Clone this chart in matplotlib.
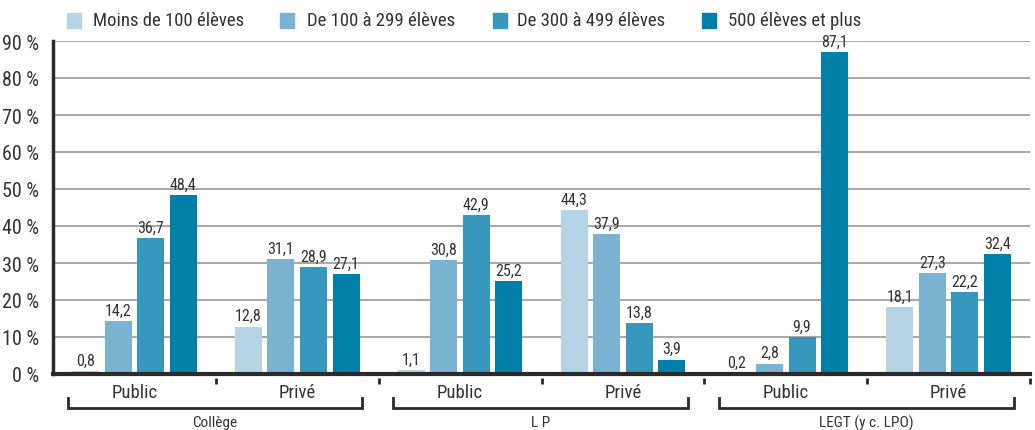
import matplotlib
matplotlib.use("Agg")
import matplotlib.pyplot as plt
from matplotlib.patches import Rectangle
from matplotlib import font_manager as fm
from matplotlib.font_manager import FontProperties
from matplotlib.textpath import TextPath
import numpy as np

# ---- font choice: prefer a condensed sans ----
fam, stretch = "DejaVu Sans", "normal"
names = [f.name for f in fm.fontManager.ttflist]
for cand in ["Liberation Sans Narrow", "Roboto Condensed", "Open Sans Condensed",
             "Noto Sans Condensed", "DejaVu Sans Condensed"]:
    if cand in names:
        fam = cand
        break
else:
    if any(f.name == "DejaVu Sans" and str(f.stretch) in ("condensed", "semi-condensed", "500", "400")
           and "Condensed" in f.fname for f in fm.fontManager.ttflist):
        fam, stretch = "DejaVu Sans", "condensed"
plt.rcParams['font.family'] = [fam, 'DejaVu Sans']
plt.rcParams['font.stretch'] = stretch
PROP = FontProperties(family=fam, stretch=stretch)


def fit_size(s, target_px):
    w = TextPath((0, 0), s, size=10, prop=PROP).get_extents().width
    return 10 * (target_px * 72 / 100) / w


series_names = ["Moins de 100 élèves", "De 100 à 299 élèves",
                "De 300 à 499 élèves", "500 élèves et plus"]
colors = ["#b5d4e6", "#79b3d1", "#3797bd", "#007fa8"]
sectors = ["Public", "Privé", "Public", "Privé", "Public", "Privé"]
categories = ["Collège", "L P", "LEGT (y c. LPO)"]

moins_100 = [0.8, 12.8, 1.1, 44.3, 0.2, 18.1]
de_100_299 = [14.2, 31.1, 30.8, 37.9, 2.8, 27.3]
de_300_499 = [36.7, 28.9, 42.9, 13.8, 9.9, 22.2]
plus_500 = [48.4, 27.1, 25.2, 3.9, 87.1, 32.4]
values = [moins_100, de_100_299, de_300_499, plus_500]

yticks = [0, 10, 20, 30, 40, 50, 60, 70, 80, 90]
ytick_labels = ["%d %%" % v for v in yticks]

fs_legend = fit_size("Moins de 100 élèves", 149)
fs_tick = fit_size("90 %", 35)
fs_sector = fit_size("Public", 44)
fs_value = fit_size("87,1", 23)
fs_cat = fit_size("Collège", 44)

W, H = 1035, 431
fig = plt.figure(figsize=(W / 100, H / 100), dpi=100)
ax_left, ax_right, ax_bottom, ax_top = 53, 1030, 375, 42
ax = fig.add_axes([ax_left / W, (H - ax_bottom) / H,
                   (ax_right - ax_left) / W, (ax_bottom - ax_top) / H])
ax_h = ax_bottom - ax_top

dark = "#2b2b2b"
txt = "#333333"
n = len(sectors)
x0 = np.arange(n) + 0.5
pitch = 0.2
bw = 0.166
for s in range(4):
    xs = x0 + (s - 1.5) * pitch
    ax.bar(xs, values[s], width=bw, color=colors[s], zorder=3)
    for x, v in zip(xs, values[s]):
        ax.text(x, v + 0.9, ("%.1f" % v).replace(".", ","), ha="center",
                va="bottom", fontsize=fs_value, color=txt, zorder=4)

ax.set_xlim(0, n)
ax.set_ylim(0, 90)
ax.set_yticks(yticks)
ax.set_yticklabels(ytick_labels, fontsize=fs_tick, color=txt)
ax.tick_params(axis="y", length=0, pad=10)
ax.set_xticks([])
for y in yticks[1:]:
    ax.axhline(y, color="#aaaaaa", lw=1.5, zorder=1)

for sp in ["top", "right"]:
    ax.spines[sp].set_visible(False)
ax.spines["left"].set_color(dark)
ax.spines["left"].set_linewidth(2.5)
ax.spines["bottom"].set_color(dark)
ax.spines["bottom"].set_linewidth(3)
ax.spines["bottom"].set_zorder(5)

tr = ax.get_xaxis_transform()
for b in range(1, n + 1):
    ax.plot([b, b], [-4 / ax_h, -10 / ax_h], color=dark, lw=2,
            transform=tr, clip_on=False, solid_capstyle="butt")
for x, lab in zip(x0, sectors):
    ax.text(x, -18 / ax_h, lab, ha="center", va="center", fontsize=fs_sector,
            color=txt, transform=tr)
for i, cat in enumerate(categories):
    l, r = 2 * i + 0.09, 2 * i + 1.9
    yh, yv = -34 / ax_h, -24 / ax_h
    ax.plot([l, l, r, r], [yv, yh, yh, yv], color=dark, lw=2,
            transform=tr, clip_on=False, solid_joinstyle="miter")
    ax.text((l + r) / 2, -48 / ax_h, cat, ha="center", va="center",
            fontsize=fs_cat, color=txt, transform=tr)

sq_x = [67, 280, 493, 702]
tx_x = [93, 307, 517, 728]
for s in range(4):
    fig.patches.append(Rectangle((sq_x[s] / W, (H - 29) / H), 14 / W, 15 / H,
                                 transform=fig.transFigure, color=colors[s]))
    fig.text(tx_x[s] / W, (H - 21) / H, series_names[s], ha="left",
             va="center", fontsize=fs_legend, color=txt)

fig.savefig("out.png", dpi=100)
